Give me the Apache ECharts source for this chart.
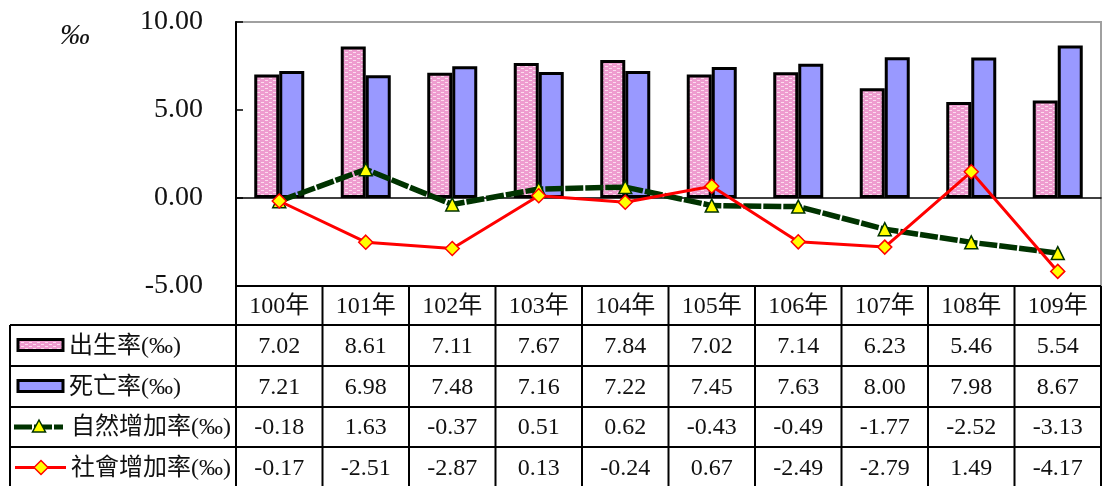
<!DOCTYPE html>
<html>
<head>
<meta charset="utf-8">
<script src="https://cdn.jsdelivr.net/npm/echarts@6/dist/echarts.min.js"></script>
<style>
  html, body { margin: 0; padding: 0; background: #fff; }
  #chart { width: 1105px; height: 486px; }
</style>
</head>
<body>
<div id="chart"></div>
<script>
// Population change rates by year (per mille)
const years = ['100年', '101年', '102年', '103年', '104年', '105年', '106年', '107年', '108年', '109年'];
const birthRate = [7.02, 8.61, 7.11, 7.67, 7.84, 7.02, 7.14, 6.23, 5.46, 5.54];
const deathRate = [7.21, 6.98, 7.48, 7.16, 7.22, 7.45, 7.63, 8.00, 7.98, 8.67];
const naturalRate = [-0.18, 1.63, -0.37, 0.51, 0.62, -0.43, -0.49, -1.77, -2.52, -3.13];
const socialRate = [-0.17, -2.51, -2.87, 0.13, -0.24, 0.67, -2.49, -2.79, 1.49, -4.17];
const seriesNames = ['出生率(‰)', '死亡率(‰)', '自然增加率(‰)', '社會增加率(‰)'];
const unitLabel = '‰';
const yMin = -5, yMax = 10, yStep = 5;

const FONT = '"Liberation Serif", "Times New Roman", "Noto Sans CJK TC", serif';
const PINK = '#ee9ccf', BLUE = '#9999ff', GREEN = '#003300', RED = '#ff0000', YELLOW = '#ffff00';

// dotted pink fill used by the birth-rate bars
function makePattern() {
  const c = document.createElement('canvas');
  c.width = 8; c.height = 4;
  const g = c.getContext('2d');
  g.fillStyle = PINK; g.fillRect(0, 0, 8, 4);
  g.fillStyle = '#fcdcee';
  g.fillRect(1, 0, 3, 1);
  g.fillRect(5, 2, 3, 1);
  return c;
}
const pinkFill = { image: makePattern(), repeat: 'repeat' };

const chart = echarts.init(document.getElementById('chart'), null, { renderer: 'canvas' });

const GRID = { left: 236, right: 4, top: 22, bottom: 200 };

chart.setOption({
  animation: false,
  backgroundColor: '#fff',
  grid: Object.assign({ show: true, borderColor: '#a0a0a0', borderWidth: 2, backgroundColor: 'transparent' }, GRID),
  xAxis: {
    type: 'category',
    data: years,
    boundaryGap: true,
    axisLine: { onZero: true, lineStyle: { color: '#000', width: 1.5 } },
    axisTick: { show: false },
    axisLabel: { show: false },
    splitLine: { show: false }
  },
  yAxis: {
    type: 'value',
    min: yMin, max: yMax, interval: yStep,
    axisLine: { show: true, lineStyle: { color: '#000', width: 2 } },
    axisTick: { show: true, inside: true, length: 7, lineStyle: { color: '#000', width: 1.5 } },
    axisLabel: {
      margin: 33,
      color: '#111',
      fontFamily: FONT,
      fontSize: 28,
      formatter: v => v.toFixed(2)
    },
    splitLine: { show: false }
  },
  series: [
    {
      name: seriesNames[0], type: 'bar', data: birthRate,
      barWidth: 25, barGap: '0%',
      itemStyle: { color: pinkFill, borderColor: '#000', borderWidth: 3 },
      z: 2
    },
    {
      name: seriesNames[1], type: 'bar', data: deathRate,
      barWidth: 25, barGap: '0%',
      itemStyle: { color: BLUE, borderColor: '#000', borderWidth: 3 },
      z: 2
    },
    {
      name: seriesNames[2], type: 'line', data: naturalRate,
      symbol: 'triangle', symbolSize: 13,
      lineStyle: { color: GREEN, width: 5.5, type: [18, 2] },
      itemStyle: { color: YELLOW, borderColor: GREEN, borderWidth: 1.5 },
      z: 4
    },
    {
      name: seriesNames[3], type: 'line', data: socialRate,
      symbol: 'diamond', symbolSize: 14,
      lineStyle: { color: RED, width: 3 },
      itemStyle: { color: YELLOW, borderColor: RED, borderWidth: 1.5 },
      z: 5
    }
  ]
});

// data table beneath the plot, aligned with the category bands
function buildTable() {
  const els = [];
  const x0 = chart.convertToPixel({ xAxisIndex: 0 }, 0);
  const x1 = chart.convertToPixel({ xAxisIndex: 0 }, 1);
  const band = x1 - x0;
  const colLeft = x0 - band / 2;
  const colRight = colLeft + band * years.length;
  const tableLeft = 10;
  const top = chart.convertToPixel({ yAxisIndex: 0 }, yMin);
  const rows = [top, 325, 366, 407, 447, 488];
  const line = (xa, ya, xb, yb) => els.push({
    type: 'line', silent: true, z: 10,
    shape: { x1: xa, y1: ya, x2: xb, y2: yb },
    style: { stroke: '#000', lineWidth: 2 }
  });
  const text = (t, x, y, align) => els.push({
    type: 'text', silent: true, z: 11,
    style: {
      text: t, x: x, y: y, fill: '#111',
      font: '24px ' + FONT,
      align: align, verticalAlign: 'middle',
      textAlign: align, textVerticalAlign: 'middle'
    }
  });

  // horizontal rules
  line(colLeft, rows[0], colRight, rows[0]);
  for (let r = 1; r < rows.length; r++) line(tableLeft, rows[r], colRight, rows[r]);
  // vertical rules
  line(tableLeft, rows[1], tableLeft, rows[rows.length - 1]);
  for (let c = 0; c <= years.length; c++) {
    const x = colLeft + band * c;
    line(x, rows[0], x, rows[rows.length - 1]);
  }

  // header + values
  const tableRows = [birthRate, deathRate, naturalRate, socialRate];
  years.forEach((y, i) => {
    const cx = colLeft + band * (i + 0.5);
    text(y, cx, (rows[0] + rows[1]) / 2 + 1, 'center');
    tableRows.forEach((arr, r) => {
      text(arr[i].toFixed(2), cx, (rows[r + 1] + rows[r + 2]) / 2 + 1, 'center');
    });
  });

  // row keys
  seriesNames.forEach((n, r) => {
    const cy = (rows[r + 1] + rows[r + 2]) / 2;
    text(n, r >= 2 ? 71 : 69, cy + 1, 'left');
    if (r === 0 || r === 1) {
      els.push({
        type: 'rect', silent: true, z: 11,
        shape: { x: 18, y: cy - 6, width: 45, height: 11 },
        style: { fill: r === 0 ? pinkFill : BLUE, stroke: '#000', lineWidth: 3 }
      });
    } else if (r === 2) {
      els.push({
        type: 'line', silent: true, z: 11,
        shape: { x1: 14, y1: cy, x2: 63, y2: cy },
        style: { stroke: GREEN, lineWidth: 5, lineDash: [18, 2] }
      });
      els.push({
        type: 'polygon', silent: true, z: 12,
        shape: { points: [[39, cy - 7], [45.5, cy + 5], [32.5, cy + 5]] },
        style: { fill: YELLOW, stroke: GREEN, lineWidth: 1.5 }
      });
    } else {
      els.push({
        type: 'line', silent: true, z: 11,
        shape: { x1: 15, y1: cy, x2: 66, y2: cy },
        style: { stroke: RED, lineWidth: 3 }
      });
      els.push({
        type: 'polygon', silent: true, z: 12,
        shape: { points: [[41, cy - 7], [48, cy], [41, cy + 7], [34, cy]] },
        style: { fill: YELLOW, stroke: RED, lineWidth: 1.5 }
      });
    }
  });

  // unit label beside the value axis
  els.push({
    type: 'text', silent: true, z: 11,
    style: {
      text: unitLabel, x: 75, y: 36, fill: '#111',
      font: 'italic 30px ' + FONT,
      align: 'center', verticalAlign: 'middle',
      textAlign: 'center', textVerticalAlign: 'middle'
    }
  });
  return els;
}

chart.setOption({ graphic: { elements: buildTable() } });
</script>
</body>
</html>
